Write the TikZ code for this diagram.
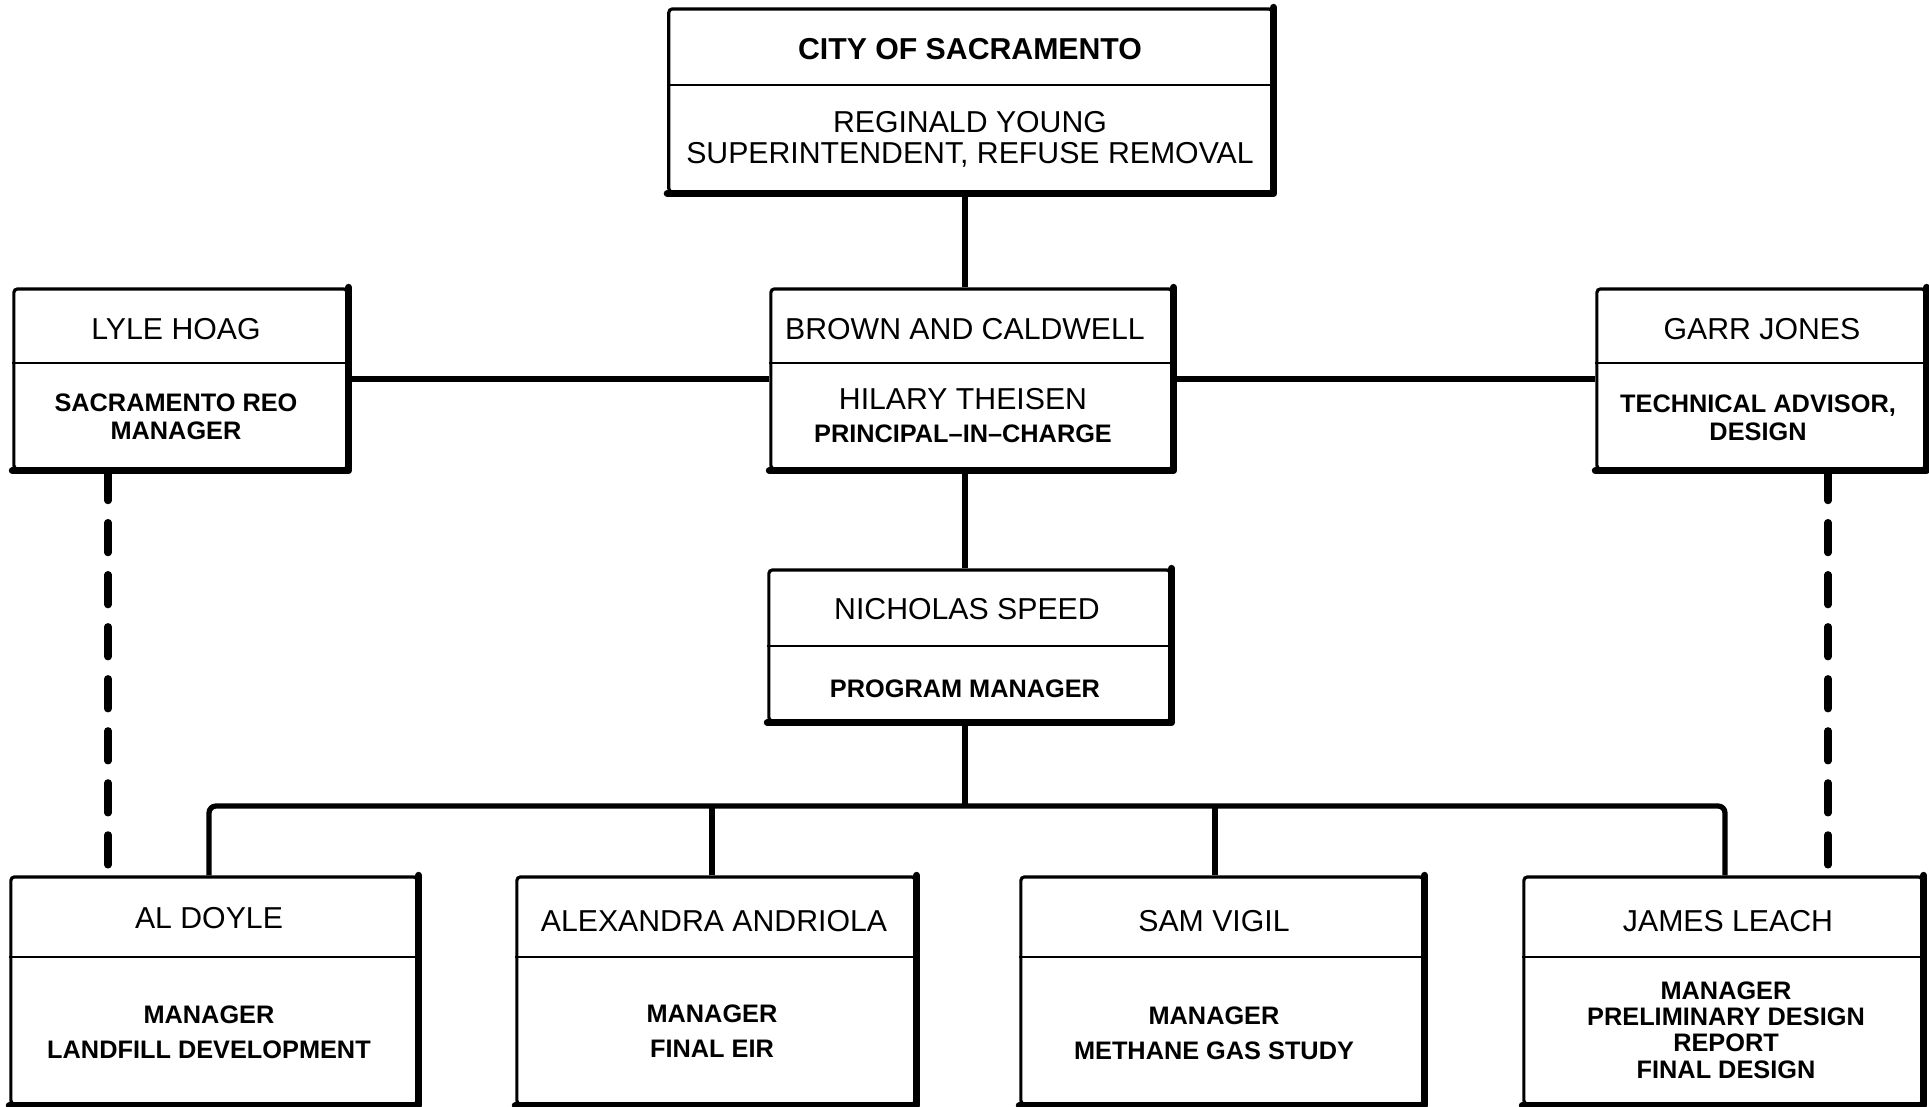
\documentclass[tikz,border=0pt]{standalone}
\usepackage{fontspec}
\setmainfont{Liberation Sans}

\tikzset{
  unit/.style={draw, rectangle, line width=0.9pt, inner sep=0pt, rounded corners=1pt},
  rim/.style={line width=2pt, line cap=round, line join=round},
  divider/.style={line width=0.8pt},
  link/.style={line width=1.5pt, rounded corners=2pt},
  dashlink/.style={line width=2.1pt, line cap=round, dash pattern=on 8.5pt off 6.3pt},
  who/.style={font=\fontsize{8.6}{8.8}\selectfont, align=center, inner sep=0pt},
  boss/.style={font=\bfseries\fontsize{8.6}{8.8}\selectfont, inner sep=0pt},
  duty/.style={font=\bfseries\fontsize{7.2}{8}\selectfont, align=center, inner sep=0pt}
}

\begin{document}
\begin{tikzpicture}[x=0.01cm, y=-0.01cm]
  \useasboundingbox (0,0) rectangle (1929,1107);

  % boxes
  \node[unit, minimum width=6.03cm, minimum height=1.83cm] (city) at (970.5,100.5) {};
  \node[unit, minimum width=3.33cm, minimum height=1.80cm] (lyle) at (180.5,379) {};
  \node[unit, minimum width=4.01cm, minimum height=1.80cm] (brown) at (971.5,379) {};
  \node[unit, minimum width=3.28cm, minimum height=1.80cm] (garr) at (1761,379) {};
  \node[unit, minimum width=4.01cm, minimum height=1.51cm] (speed) at (969.5,645.5) {};
  \node[unit, minimum width=4.06cm, minimum height=2.27cm] (doyle) at (214,990.5) {};
  \node[unit, minimum width=3.98cm, minimum height=2.27cm] (andriola) at (716,990.5) {};
  \node[unit, minimum width=4.02cm, minimum height=2.27cm] (vigil) at (1222,990.5) {};
  \node[unit, minimum width=3.98cm, minimum height=2.27cm] (leach) at (1723,990.5) {};

  \foreach \b/\d in {city/85, lyle/363, brown/363, garr/363, speed/646,
                     doyle/957, andriola/957, vigil/957, leach/957}
    \draw[divider] (\b.west |- 0,\d) -- (\b.east |- 0,\d);
  \foreach \b in {city, lyle, brown, garr, speed, doyle, andriola, vigil, leach}
    \draw[rim] (\b.north east) -- (\b.south east) -- (\b.south west);

  % texts
  \node[boss] (city-name) at (970,49) {CITY OF SACRAMENTO};
  \node[who] (city-duty) at (970,139) {REGINALD YOUNG\\SUPERINTENDENT, REFUSE REMOVAL};
  \node[who] (lyle-name) at (176,329) {LYLE HOAG};
  \node[duty] (lyle-duty) at (176,417) {SACRAMENTO REO\\MANAGER};
  \node[who] (brown-name) at (965,329) {BROWN AND CALDWELL};
  \node[who] (brown-head) at (963,399) {HILARY THEISEN};
  \node[duty] (brown-duty) at (963,434) {PRINCIPAL–IN–CHARGE};
  \node[who] (garr-name) at (1762,329) {GARR JONES};
  \node[duty] (garr-duty) at (1758,418) {TECHNICAL ADVISOR,\\DESIGN};
  \node[who] (speed-name) at (967,609) {NICHOLAS SPEED};
  \node[duty] (speed-duty) at (965,689) {PROGRAM MANAGER};
  \node[who] (doyle-name) at (209,918) {AL DOYLE};
  \node[duty] (doyle-duty) at (209,1032) {MANAGER\\[2pt]LANDFILL DEVELOPMENT};
  \node[who] (andriola-name) at (714,921) {ALEXANDRA ANDRIOLA};
  \node[duty] (andriola-duty) at (712,1031) {MANAGER\\[2pt]FINAL EIR};
  \node[who] (vigil-name) at (1214,921) {SAM VIGIL};
  \node[duty] (vigil-duty) at (1214,1033) {MANAGER\\[2pt]METHANE GAS STUDY};
  \node[who] (leach-name) at (1728,921) {JAMES LEACH};
  \node[duty] (leach-duty) at (1726,1030) {MANAGER\\[-0.5pt]PRELIMINARY DESIGN\\[-0.5pt]REPORT\\[-0.5pt]FINAL DESIGN};

  % lines
  \coordinate (bus) at (965,806);
  \coordinate (drop1) at (209,806);
  \coordinate (drop2) at (712,806);
  \coordinate (drop3) at (1215,806);
  \coordinate (drop4) at (1725,806);
  \coordinate (ldash) at (108,0);
  \coordinate (rdash) at (1828,0);
  \draw[link] (city.south -| bus) -- (brown.north -| bus);
  \draw[link] (brown.south -| bus) -- (speed.north -| bus);
  \draw[link] (lyle.east) -- (brown.west);
  \draw[link] (brown.east) -- (garr.west);
  \draw[link] (speed.south -| bus) -- (bus);
  \draw[link] (doyle.north -| drop1) -- (drop1) -- (drop4) -- (leach.north -| drop4);
  \draw[link] (andriola.north -| drop2) -- (drop2);
  \draw[link] (vigil.north -| drop3) -- (drop3);
  \draw[dashlink] (lyle.south -| ldash) -- (doyle.north -| ldash);
  \draw[dashlink] (garr.south -| rdash) -- (leach.north -| rdash);
\end{tikzpicture}
\end{document}
